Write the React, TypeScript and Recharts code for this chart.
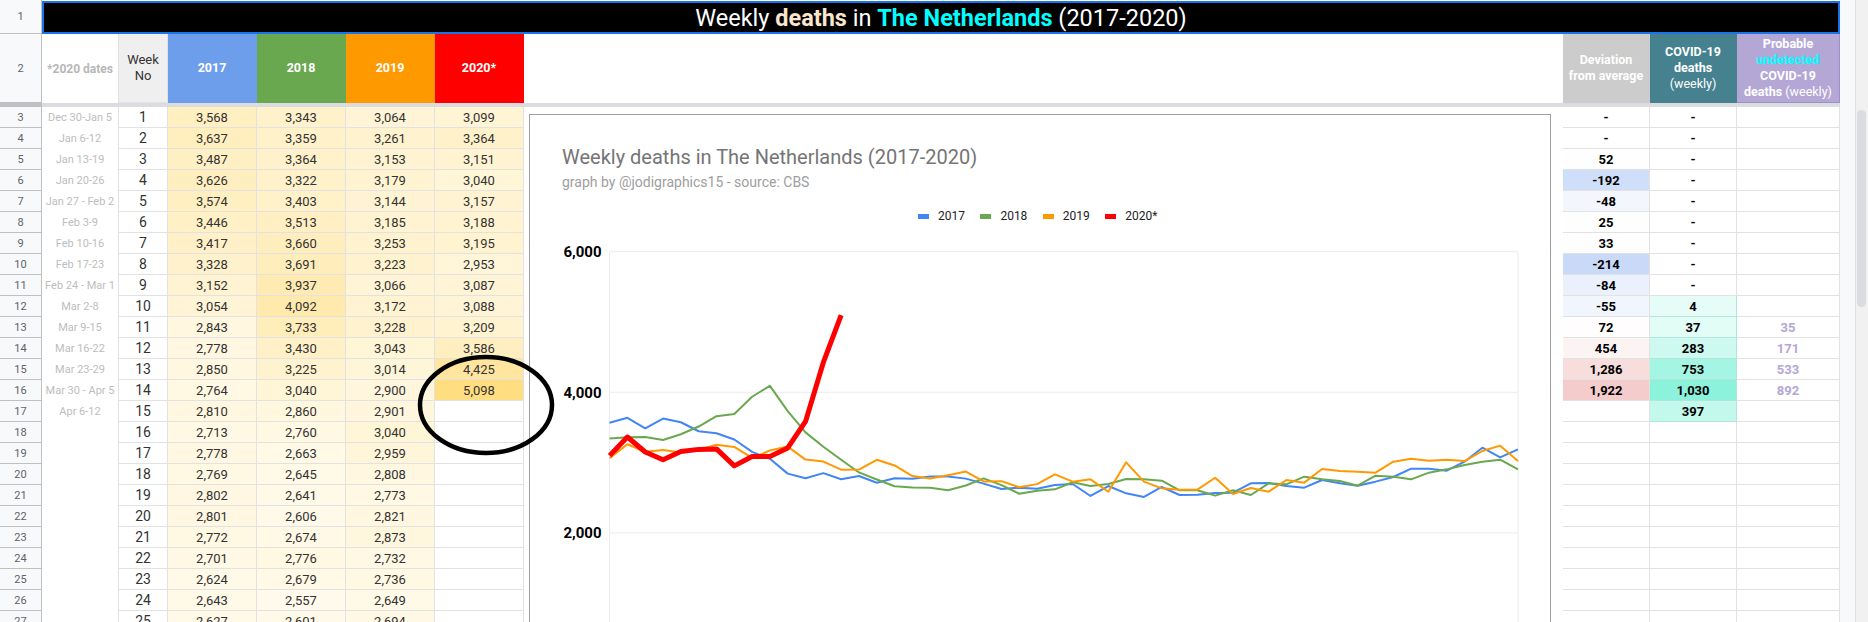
import React from "react";
import { CartesianGrid, Legend, Line, LineChart, XAxis, YAxis } from "recharts";

// weekly deaths, NL (CBS). weeks 1-25 from the sheet, the rest
const weeks = [
  1, 2, 3, 4, 5, 6, 7, 8, 9, 10, 11, 12, 13, 14, 15, 16, 17, 18, 19, 20, 21, 22, 23, 24, 25, 26,
  27, 28, 29, 30, 31, 32, 33, 34, 35, 36, 37, 38, 39, 40, 41, 42, 43, 44, 45, 46, 47, 48, 49, 50, 51, 52,
];
const deaths2017 = [
  3568, 3637, 3487, 3626, 3574, 3446, 3417, 3328, 3152, 3054, 2843, 2778, 2850, 2764, 2810, 2713,
  2778, 2769, 2802, 2801, 2772, 2701, 2624, 2643, 2627, 2681, 2696, 2525, 2667, 2563, 2511, 2653,
  2539, 2544, 2568, 2572, 2705, 2710, 2667, 2643, 2752, 2705, 2672, 2729, 2795, 2913, 2913, 2885,
  3013, 3212, 3075, 3189,
];
const deaths2018 = [
  3343, 3359, 3364, 3322, 3403, 3513, 3660, 3691, 3937, 4092, 3733, 3430, 3225, 3040, 2860, 2760,
  2663, 2645, 2641, 2606, 2674, 2776, 2679, 2557, 2601, 2620, 2720, 2667, 2696, 2767, 2762, 2743,
  2606, 2606, 2530, 2606, 2539, 2705, 2691, 2800, 2762, 2738, 2672, 2814, 2800, 2762, 2857, 2904,
  2965, 3013, 3041, 2904,
];
const deaths2019 = [
  3064, 3261, 3153, 3179, 3144, 3185, 3253, 3223, 3066, 3172, 3228, 3043, 3014, 2900, 2901, 3040,
  2959, 2808, 2773, 2821, 2873, 2732, 2736, 2649, 2694, 2833, 2729, 2762, 2586, 3004, 2729, 2634,
  2615, 2615, 2785, 2553, 2639, 2586, 2752, 2715, 2909, 2881, 2871, 2857, 3013, 3055, 3027, 3041,
  3022, 3165, 3241, 3022,
];
const deaths2020 = [3099, 3364, 3151, 3040, 3157, 3188, 3195, 2953, 3087, 3088, 3209, 3586, 4425, 5098];

const yTicks = [0, 2000, 4000, 6000];
const xTicks = [1, 4, 7, 10, 13, 16, 19, 22, 25, 28, 31, 34, 37, 40, 43, 46, 49, 52];

const dateLabels = [
  "Dec 30-Jan 5", "Jan 6-12", "Jan 13-19", "Jan 20-26", "Jan 27 - Feb 2", "Feb 3-9", "Feb 10-16",
  "Feb 17-23", "Feb 24 - Mar 1", "Mar 2-8", "Mar 9-15", "Mar 16-22", "Mar 23-29", "Mar 30 - Apr 5",
  "Apr 6-12",
];
const deviationFromAverage: (number | null)[] = [
  null, null, 52, -192, -48, 25, 33, -214, -84, -55, 72, 454, 1286, 1922,
];
const covidDeaths: (number | null)[] = [
  null, null, null, null, null, null, null, null, null, 4, 37, 283, 753, 1030, 397,
];
const undetectedDeaths: (number | null)[] = [
  null, null, null, null, null, null, null, null, null, null, 35, 171, 533, 892,
];

const SERIES = [
  { key: "y2017", name: "2017", color: "#4285f4", width: 2 },
  { key: "y2018", name: "2018", color: "#6aa84f", width: 2 },
  { key: "y2019", name: "2019", color: "#ff9900", width: 2 },
  { key: "y2020", name: "2020*", color: "#ff0000", width: 5 },
];

const FONT = "Roboto, Arial, sans-serif";
const GRID = "#e2e2e2";
const ROW_TOP = 107;
const ROW_H = 21;
const VISIBLE_ROWS = 25;

const COL = {
  rowNum: { x: 0, w: 42 },
  dates: { x: 42, w: 77 },
  week: { x: 119, w: 49 },
  y2017: { x: 168, w: 89 },
  y2018: { x: 257, w: 89 },
  y2019: { x: 346, w: 89 },
  y2020: { x: 435, w: 89 },
  dev: { x: 1563, w: 87 },
  covid: { x: 1650, w: 87 },
  undet: { x: 1737, w: 103 },
};

const fmt = (v: number) => v.toLocaleString("en-US");

function mix(a: number[], b: number[], t: number) {
  const k = Math.max(0, Math.min(1, t));
  const c = a.map((v, i) => Math.round(v + (b[i] - v) * k));
  return `rgb(${c.join(",")})`;
}
const heat = (v: number) => mix([255, 250, 235], [255, 222, 130], (v - 2550) / 2550);
const devColor = (v: number | null) => {
  if (v == null) return "#fff";
  return v < 0
    ? mix([255, 255, 255], [201, 218, 248], -v / 214)
    : mix([255, 255, 255], [244, 204, 204], v / 1922);
};
const covidColor = (v: number) => mix([229, 252, 247], [140, 242, 220], v / 1030);

type CellProps = {
  x: number;
  y: number;
  w: number;
  h: number;
  bg?: string;
  border?: string;
  noBottom?: boolean;
  style?: React.CSSProperties;
  children?: React.ReactNode;
};

function Cell({ x, y, w, h, bg = "#fff", border = GRID, noBottom, style, children }: CellProps) {
  return (
    <div
      style={{
        position: "absolute",
        left: x,
        top: y,
        width: w,
        height: h,
        boxSizing: "border-box",
        background: bg,
        borderRight: `1px solid ${border}`,
        borderBottom: noBottom ? "none" : `1px solid ${border}`,
        display: "flex",
        flexDirection: "column",
        alignItems: "center",
        justifyContent: "center",
        textAlign: "center",
        overflow: "hidden",
        whiteSpace: "nowrap",
        ...style,
      }}
    >
      {children}
    </div>
  );
}

const yearCols = [
  { col: COL.y2017, label: "2017", bg: "#6d9eeb", values: deaths2017 },
  { col: COL.y2018, label: "2018", bg: "#6aa84f", values: deaths2018 },
  { col: COL.y2019, label: "2019", bg: "#ff9900", values: deaths2019 },
  { col: COL.y2020, label: "2020*", bg: "#ff0000", values: deaths2020 },
];

function renderLegend() {
  return (
    <div style={{ display: "flex", fontFamily: FONT, fontSize: 12, color: "#222", lineHeight: "16px" }}>
      {SERIES.map((s) => (
        <div key={s.key} style={{ display: "flex", alignItems: "center", width: 62.4 }}>
          <span style={{ width: 11, height: 5, background: s.color, marginRight: 9 }} />
          <span>{s.name}</span>
        </div>
      ))}
    </div>
  );
}

function DeathsChart() {
  const data = weeks.map((week, i) => ({
    week,
    y2017: deaths2017[i],
    y2018: deaths2018[i],
    y2019: deaths2019[i],
    y2020: i < deaths2020.length ? deaths2020[i] : null,
  }));

  return (
    <LineChart
      width={1020}
      height={620}
      data={data}
      margin={{ top: 136.7, right: 32, bottom: 31.5, left: 0 }}
    >
      <CartesianGrid stroke="#ebebeb" />
      <XAxis
        dataKey="week"
        type="number"
        domain={[1, 52]}
        ticks={xTicks}
        height={30}
        axisLine={false}
        tickLine={false}
        tick={false}
      />
      <YAxis
        domain={[0, 6000]}
        ticks={yTicks}
        width={79.6}
        axisLine={false}
        tickLine={false}
        tickFormatter={(v: number) => fmt(v)}
        tick={{ fill: "#000", fontSize: 15, fontWeight: 700, fontFamily: FONT }}
      />
      <Legend
        layout="vertical"
        align="center"
        verticalAlign="middle"
        content={renderLegend}
        wrapperStyle={{ top: 93, left: 388, width: "auto" }}
      />
      {SERIES.map((s) => (
        <Line
          key={s.key}
          dataKey={s.key}
          name={s.name}
          stroke={s.color}
          strokeWidth={s.width}
          strokeLinejoin="round"
          dot={false}
          activeDot={false}
          isAnimationActive={false}
        />
      ))}
    </LineChart>
  );
}

export default function App() {
  const rows = Array.from({ length: VISIBLE_ROWS }, (_, i) => i);
  const headerText: React.CSSProperties = { color: "#fff", fontWeight: 700, fontSize: 12.5, lineHeight: "16px" };

  return (
    <div
      style={{
        position: "fixed",
        left: 0,
        top: 0,
        width: 1868,
        height: 622,
        overflow: "hidden",
        background: "#fff",
        fontFamily: FONT,
        color: "#222",
      }}
    >
      {/* row 1 : title bar */}
      <Cell x={0} y={0} w={42} h={34} bg="#f8f9fa" border="#c0c0c0" style={{ fontSize: 11, color: "#5f6368" }}>
        1
      </Cell>
      <div
        style={{
          position: "absolute",
          left: 42,
          top: 1,
          width: 1798,
          height: 33,
          boxSizing: "border-box",
          background: "#000",
          border: "2px solid #1a73e8",
          display: "flex",
          alignItems: "center",
          justifyContent: "center",
          fontSize: 23.5,
          color: "#fff",
          whiteSpace: "pre",
        }}
      >
        <span>Weekly </span>
        <span style={{ color: "#fce5cd", fontWeight: 700 }}>deaths</span>
        <span> in </span>
        <span style={{ color: "#00ffff", fontWeight: 700 }}>The Netherlands</span>
        <span> (2017-2020)</span>
      </div>

      {/* row 2 : headers */}
      <Cell x={0} y={34} w={42} h={69} bg="#f8f9fa" border="#c0c0c0" style={{ fontSize: 11, color: "#5f6368" }}>
        2
      </Cell>
      <Cell x={COL.dates.x} y={34} w={COL.dates.w} h={69} noBottom style={{ fontSize: 12, fontWeight: 700, color: "#b7b7b7" }}>
        *2020 dates
      </Cell>
      <Cell x={COL.week.x} y={34} w={COL.week.w} h={69} bg="#efefef" style={{ fontSize: 13, color: "#333", lineHeight: "16px" }}>
        <div>Week</div>
        <div>No</div>
      </Cell>
      {yearCols.map((c) => (
        <Cell key={c.label} x={c.col.x} y={34} w={c.col.w} h={69} bg={c.bg} border={c.bg}>
          <span style={headerText}>{c.label}</span>
        </Cell>
      ))}
      <Cell x={COL.dev.x} y={34} w={COL.dev.w} h={69} bg="#cccccc" border="#cccccc" style={headerText}>
        <div>Deviation</div>
        <div>from average</div>
      </Cell>
      <Cell x={COL.covid.x} y={34} w={COL.covid.w} h={69} bg="#45818e" border="#45818e" style={headerText}>
        <div>COVID-19</div>
        <div>deaths</div>
        <div style={{ fontWeight: 400 }}>(weekly)</div>
      </Cell>
      <Cell x={COL.undet.x} y={34} w={COL.undet.w} h={69} bg="#b4a7d6" border="#9d8fc7" style={headerText}>
        <div>Probable</div>
        <div style={{ color: "#00ffff" }}>undetected</div>
        <div>COVID-19</div>
        <div>
          deaths <span style={{ fontWeight: 400 }}>(weekly)</span>
        </div>
      </Cell>

      {/* frozen row divider */}
      <div style={{ position: "absolute", left: 0, top: 103, width: 1840, height: 4, background: "#dadce0" }} />
      <div style={{ position: "absolute", left: 0, top: 103, width: 42, height: 4, background: "#bdc1c6" }} />

      {/* data rows */}
      {rows.map((i) => {
        const y = ROW_TOP + i * ROW_H;
        const dev = i < deviationFromAverage.length ? deviationFromAverage[i] : undefined;
        const cov = i < covidDeaths.length ? covidDeaths[i] : undefined;
        const und = i < undetectedDeaths.length ? undetectedDeaths[i] : null;
        return (
          <React.Fragment key={i}>
            <Cell x={0} y={y} w={42} h={ROW_H} bg="#f8f9fa" border="#c0c0c0" style={{ fontSize: 11, color: "#5f6368" }}>
              {i + 3}
            </Cell>
            <Cell x={COL.dates.x} y={y} w={COL.dates.w} h={ROW_H} noBottom style={{ fontSize: 11, color: "#bdbdbd" }}>
              {dateLabels[i] ?? ""}
            </Cell>
            <Cell x={COL.week.x} y={y} w={COL.week.w} h={ROW_H} style={{ fontSize: 14, color: "#333" }}>
              {weeks[i]}
            </Cell>
            {yearCols.map((c) => {
              const v = c.values[i];
              return (
                <Cell
                  key={c.label}
                  x={c.col.x}
                  y={y}
                  w={c.col.w}
                  h={ROW_H}
                  bg={v != null ? heat(v) : "#fff"}
                  style={{ fontSize: 13, color: "#333" }}
                >
                  {v != null ? fmt(v) : ""}
                </Cell>
              );
            })}
            <Cell
              x={COL.dev.x}
              y={y}
              w={COL.dev.w}
              h={ROW_H}
              bg={devColor(dev ?? null)}
              style={{ fontSize: 13, fontWeight: 700, color: "#000" }}
            >
              {dev === undefined ? "" : dev === null ? "-" : fmt(dev)}
            </Cell>
            <Cell
              x={COL.covid.x}
              y={y}
              w={COL.covid.w}
              h={ROW_H}
              bg={cov != null ? covidColor(cov) : "#fff"}
              border={cov != null ? "#b3e6d8" : GRID}
              style={{ fontSize: 13, fontWeight: 700, color: "#000" }}
            >
              {cov === undefined ? "" : cov === null ? "-" : fmt(cov)}
            </Cell>
            <Cell
              x={COL.undet.x}
              y={y}
              w={COL.undet.w}
              h={ROW_H}
              style={{ fontSize: 13, fontWeight: 700, color: "#b4a7d6" }}
            >
              {und != null ? fmt(und) : ""}
            </Cell>
          </React.Fragment>
        );
      })}

      {/* right edge / scrollbar */}
      <div style={{ position: "absolute", left: 1840, top: 0, width: 15, height: 622, background: "#f8f9fa", borderRight: "1px solid #e0e0e0" }} />
      <div style={{ position: "absolute", left: 1856, top: 0, width: 12, height: 622, background: "#f1f1f1" }} />
      <div style={{ position: "absolute", left: 1857, top: 110, width: 9, height: 197, background: "#dadce0", borderRadius: 5 }} />

      {/* embedded chart */}
      <div
        style={{
          position: "absolute",
          left: 529,
          top: 114,
          width: 1022,
          height: 560,
          boxSizing: "border-box",
          border: "1px solid #9e9e9e",
          background: "#fff",
          overflow: "hidden",
        }}
      >
        <div style={{ position: "absolute", left: 0, top: 0 }}>
          <DeathsChart />
        </div>
        <div
          style={{
            position: "absolute",
            left: 32,
            top: 29,
            height: 26,
            lineHeight: "26px",
            fontSize: 20,
            color: "#757575",
            whiteSpace: "nowrap",
          }}
        >
          Weekly deaths in The Netherlands (2017-2020)
        </div>
        <div
          style={{
            position: "absolute",
            left: 32,
            top: 58,
            height: 18,
            lineHeight: "18px",
            fontSize: 14,
            color: "#9e9e9e",
            whiteSpace: "nowrap",
          }}
        >
          graph by @jodigraphics15 - source: CBS
        </div>
      </div>

      {/* hand-drawn circle around the latest 2020 weeks */}
      <svg width={1868} height={622} style={{ position: "absolute", left: 0, top: 0, pointerEvents: "none" }}>
        <ellipse cx={486} cy={405} rx={66} ry={48} fill="none" stroke="#000" strokeWidth={4.5} />
      </svg>
    </div>
  );
}
